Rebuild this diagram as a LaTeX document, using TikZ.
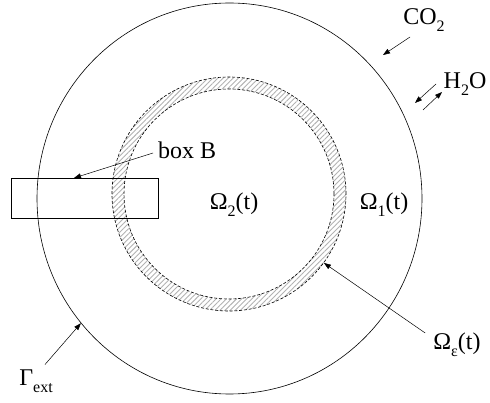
\documentclass[tikz,border=0pt]{standalone}
\usepackage{fontspec}
\setmainfont{Liberation Serif}
\usetikzlibrary{arrows.meta,patterns.meta,shapes.geometric,calc}
\newcommand\lowsub[1]{\raisebox{-0.28em}{\fontsize{16}{18}\selectfont #1}}
\tikzset{
  lbl/.style={inner sep=0pt, font=\fontsize{24}{28}\selectfont},
  arr/.style={line width=0.5pt, -{Triangle[length=7pt,width=5pt]}},
  thin line/.style={line width=0.6pt},
}
\begin{document}
\begin{tikzpicture}[x=1pt,y=-1pt]
\useasboundingbox (0,0) rectangle (490,403);
% outer domain
\node[ellipse, draw, thin line, minimum width=385pt, minimum height=391pt, inner sep=0pt] (outer) at (229.5,198.5) {};
% hatched ring
\path[pattern={Lines[angle=45,distance=3.6pt,line width=0.9pt]}, pattern color=gray!60, even odd rule]
  (229,194) circle[radius=117] (229,194) circle[radius=105];
\node[circle, draw, dashed, dash pattern=on 3pt off 1.8pt, line width=0.6pt, minimum size=234pt, inner sep=0pt] (ringout) at (229,194) {};
\node[circle, draw, dashed, dash pattern=on 3pt off 1.8pt, line width=0.6pt, minimum size=210pt, inner sep=0pt] (ringin) at (229,194) {};
% box B
\node[rectangle, draw, thin line, minimum width=147pt, minimum height=40pt, inner sep=0pt] (boxB) at (84.5,198) {};
% labels
\node[lbl, anchor=west] (boxlbl) at (158,150) {box B};
\node[lbl] (om2) at (234,205) {Ω\lowsub{2}(t)};
\node[lbl] (om1) at (384,205) {Ω\lowsub{1}(t)};
\node[lbl] (co2) at (424,20) {CO\lowsub{2}};
\node[lbl] (h2o) at (465,84) {H\lowsub{2}O};
\node[lbl] (omeps) at (457,345) {Ω\lowsub{ε}(t)};
\node[lbl] (gam) at (36,381) {Γ\lowsub{ext}};
% arrows
\coordinate (boxtip) at (74,178);
\draw[arr] ($(boxlbl.west)+(-5,3)$) -- (boxtip);
\coordinate (co2s) at (410,37);
\coordinate (co2t) at (383,55);
\draw[arr] (co2s) -- (co2t);
\coordinate (h1s) at (436,84);
\coordinate (h1t) at (415,103);
\draw[arr] (h1s) -- (h1t);
\coordinate (h2s) at (423,110);
\coordinate (h2t) at (442,92);
\draw[arr] (h2s) -- (h2t);
\draw[arr] ($(omeps.west)+(-8,-12)$) -- (ringout.-36);
\draw[arr] ($(gam.north)+(9,-5)$) -- (outer.220);
\end{tikzpicture}
\end{document}
